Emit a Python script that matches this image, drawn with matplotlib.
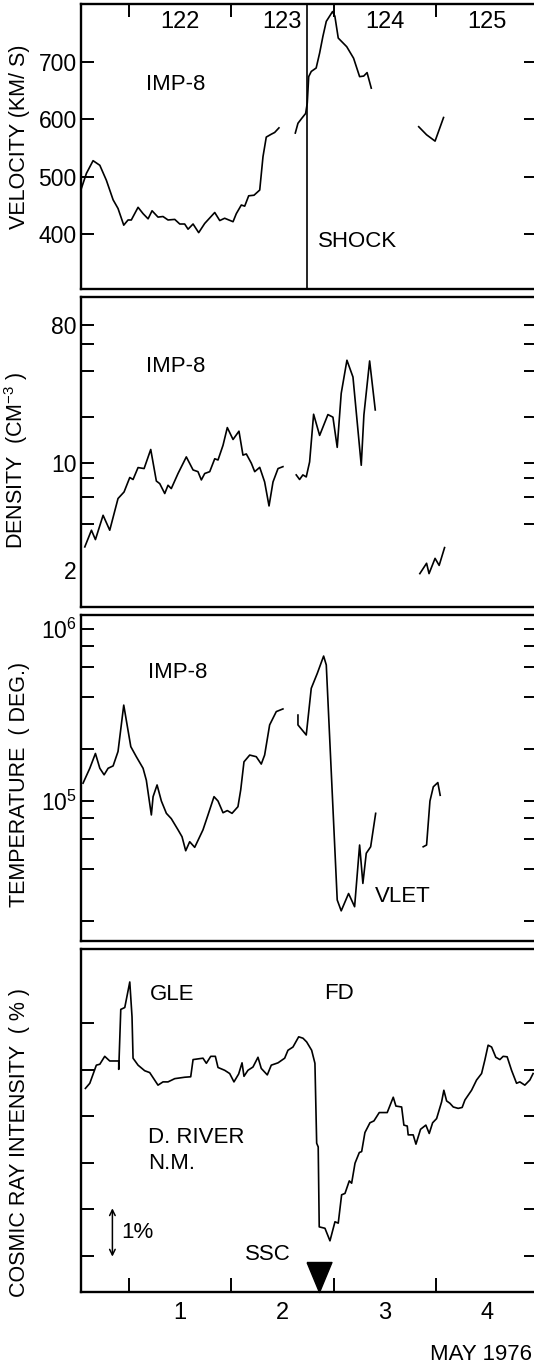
import matplotlib
matplotlib.use('Agg')
import matplotlib.pyplot as plt
import matplotlib.transforms as mtransforms
from matplotlib.ticker import NullLocator

# time axis: days of May 1976 (tick at 1.0 = start of May 1 = day 122)
day_bounds = [1, 2, 3, 4]
day_mid = [1.5, 2.5, 3.5, 4.5]
doy_labels = ['122', '123', '124', '125']
may_labels = ['1', '2', '3', '4']

# solar wind velocity (km/s), IMP-8
vel1_t = [0.534, 0.583, 0.648, 0.714, 0.778, 0.844, 0.892, 0.948, 0.990, 1.022,
          1.088, 1.137, 1.186, 1.225, 1.283, 1.332, 1.381, 1.447, 1.496, 1.544,
          1.577, 1.626, 1.681, 1.740, 1.838, 1.887, 1.935, 2.017, 2.049, 2.098,
          2.131, 2.170, 2.222, 2.278, 2.310, 2.342, 2.391, 2.424, 2.466]
vel1_v = [480, 506, 528, 520, 494, 460, 445, 416, 425, 425,
          447, 436, 427, 441, 430, 431, 425, 426, 418, 418,
          409, 418, 403, 419, 438, 424, 428, 422, 436, 451,
          449, 467, 468, 477, 535, 569, 574, 577, 585]
vel2_t = [2.626, 2.652, 2.691, 2.727, 2.743, 2.757, 2.782, 2.830, 2.864, 2.896,
          2.929, 2.990, 3.013, 3.046, 3.129, 3.196, 3.255, 3.295, 3.328, 3.369]
vel2_v = [576, 593, 602, 610, 628, 674, 683, 689, 715, 744,
          770, 787, 779, 741, 726, 706, 674, 675, 681, 654]
vel3_t = [3.833, 3.910, 3.993, 4.076]
vel3_v = [587, 573, 562, 603]
shock_time = 2.743

# density (cm^-3)
den1_t = [0.567, 0.632, 0.671, 0.746, 0.811, 0.892, 0.951, 1.007, 1.039, 1.088,
          1.147, 1.212, 1.267, 1.300, 1.349, 1.381, 1.413, 1.479, 1.560, 1.626,
          1.674, 1.707, 1.740, 1.789, 1.838, 1.870, 1.919, 1.961, 2.017, 2.075,
          2.114, 2.147, 2.196, 2.229, 2.278, 2.326, 2.369, 2.408, 2.457, 2.505]
den1_n = [2.84, 3.65, 3.17, 4.57, 3.65, 5.88, 6.49, 8.07, 7.83, 9.37,
          9.23, 12.3, 7.65, 7.36, 6.34, 7.18, 6.83, 8.57, 11.0, 9.04,
          8.81, 7.78, 8.57, 8.81, 10.7, 10.5, 13.1, 17.1, 14.3, 16.2,
          11.3, 11.5, 10.0, 8.81, 9.4, 7.55, 5.26, 7.55, 9.23, 9.5]
den2_t = [2.635, 2.668, 2.700, 2.733, 2.766, 2.805, 2.864, 2.945, 2.994, 3.036,
          3.075, 3.131, 3.190, 3.271, 3.297, 3.353, 3.408]
den2_n = [8.39, 7.83, 8.39, 8.14, 10.2, 20.9, 15.2, 20.8, 20.0, 12.7,
          28.6, 47.1, 36.6, 9.7, 20.7, 46.6, 22.3]
den3_t = [3.844, 3.910, 3.934, 3.993, 4.033, 4.086]
den3_n = [1.90, 2.22, 1.90, 2.39, 2.15, 2.81]
den_ticks = [2, 4, 6, 8, 10, 20, 40, 60, 80]
den_ticklabels = ['2', '', '', '', '10', '', '', '', '80']

# temperature (K)
tmp1_t = [0.550, 0.616, 0.671, 0.714, 0.756, 0.795, 0.844, 0.892, 0.948, 1.017,
          1.071, 1.137, 1.169, 1.218, 1.235, 1.274, 1.316, 1.365, 1.413, 1.479,
          1.518, 1.554, 1.593, 1.642, 1.723, 1.772, 1.831, 1.870, 1.919, 1.961,
          2.007, 2.065, 2.092, 2.124, 2.180, 2.244, 2.293, 2.326, 2.375, 2.440,
          2.505]
tmp1_T = [1.27e5, 1.55e5, 1.89e5, 1.55e5, 1.42e5, 1.55e5, 1.60e5, 1.94e5, 3.61e5, 2.07e5,
          1.81e5, 1.55e5, 1.32e5, 8.3e4, 1.06e5, 1.24e5, 1.0e5, 8.48e4, 7.9e4, 6.8e4,
          6.2e4, 5.14e4, 5.8e4, 5.38e4, 6.8e4, 8.3e4, 1.06e5, 1.0e5, 8.55e4, 8.8e4,
          8.48e4, 9.27e4, 1.16e5, 1.69e5, 1.85e5, 1.81e5, 1.64e5, 1.85e5, 2.77e5, 3.31e5,
          3.43e5]
tmp2_t = [2.652, 2.652, 2.733, 2.782, 2.841, 2.903, 2.929, 3.036, 3.075, 3.147,
          3.206, 3.255, 3.287, 3.320, 3.363, 3.412]
tmp2_T = [3.16e5, 2.77e5, 2.42e5, 4.52e5, 5.52e5, 6.96e5, 6.18e5, 2.66e4, 2.3e4, 2.9e4,
          2.43e4, 5.55e4, 3.32e4, 4.97e4, 5.42e4, 8.48e4]
tmp3_t = [3.877, 3.910, 3.943, 3.976, 4.020, 4.043]
tmp3_T = [5.42e4, 5.55e4, 1.0e5, 1.21e5, 1.28e5, 1.08e5]
tmp_ticks = [2e4, 4e4, 6e4, 8e4, 1e5, 2e5, 4e5, 6e5, 8e5, 1e6]
tmp_ticklabels = ['', '', '', '', '$10^5$', '', '', '', '', '$10^6$']

# cosmic ray intensity (%), Deep River neutron monitor
cr_t = [0.573, 0.616, 0.680, 0.714, 0.762, 0.811, 0.899, 0.899, 0.919, 0.958,
        1.007, 1.029, 1.039, 1.088, 1.153, 1.202, 1.283, 1.332, 1.381, 1.447,
        1.544, 1.603, 1.626, 1.723, 1.756, 1.799, 1.844, 1.870, 1.935, 1.984,
        2.026, 2.072, 2.105, 2.124, 2.163, 2.212, 2.261, 2.293, 2.352, 2.391,
        2.457, 2.522, 2.554, 2.603, 2.659, 2.701, 2.737, 2.786, 2.818, 2.835,
        2.850, 2.860, 2.916, 2.965, 3.014, 3.046, 3.079, 3.112, 3.154, 3.177,
        3.210, 3.252, 3.275, 3.307, 3.356, 3.395, 3.447, 3.525, 3.584, 3.610,
        3.666, 3.688, 3.721, 3.730, 3.779, 3.806, 3.851, 3.903, 3.936, 3.969,
        4.008, 4.057, 4.079, 4.106, 4.138, 4.171, 4.219, 4.258, 4.285, 4.350,
        4.399, 4.448, 4.480, 4.512, 4.546, 4.587, 4.627, 4.659, 4.698, 4.741,
        4.790, 4.822, 4.871, 4.920, 4.952]
cr_v = [3.60, 3.71, 4.10, 4.12, 4.29, 4.19, 4.19, 4.01, 5.30, 5.34,
        5.89, 5.14, 4.25, 4.10, 3.98, 3.94, 3.67, 3.74, 3.74, 3.81,
        3.84, 3.85, 4.22, 4.25, 4.14, 4.29, 4.29, 4.05, 3.99, 3.92,
        3.74, 3.91, 4.15, 3.86, 3.99, 4.06, 4.27, 4.03, 3.89, 4.10,
        4.15, 4.25, 4.42, 4.49, 4.71, 4.68, 4.60, 4.42, 4.14, 2.42,
        2.34, 0.62, 0.59, 0.32, 0.73, 0.70, 1.31, 1.34, 1.61, 1.56,
        1.99, 2.22, 2.24, 2.65, 2.86, 2.90, 3.08, 3.08, 3.41, 3.22,
        3.20, 2.81, 2.79, 2.60, 2.60, 2.40, 2.72, 2.81, 2.63, 2.86,
        2.95, 3.31, 3.56, 3.33, 3.28, 3.20, 3.17, 3.19, 3.35, 3.56,
        3.78, 3.92, 4.21, 4.53, 4.49, 4.27, 4.22, 4.29, 4.28, 3.99,
        3.71, 3.74, 3.67, 3.78, 3.92]
cr_ticks = [0, 1, 2, 3, 4, 5]
ssc_time = 2.857

plt.rcParams['font.family'] = ['Liberation Sans', 'DejaVu Sans']
plt.rcParams['font.size'] = 16
plt.rcParams['mathtext.default'] = 'regular'

fig = plt.figure(figsize=(5.34, 13.68), dpi=100)
ax1 = fig.add_axes([0.1517, 0.7887, 0.852, 0.2083])
ax2 = fig.add_axes([0.1517, 0.5563, 0.852, 0.2266])
ax3 = fig.add_axes([0.1517, 0.3121, 0.852, 0.2383])
ax4 = fig.add_axes([0.1517, 0.0556, 0.852, 0.2507])

lw = 1.2
for ax in [ax1, ax2, ax3, ax4]:
    for s in ax.spines.values():
        s.set_linewidth(1.7)
    ax.set_xlim(0.53, 4.98)
    ax.tick_params(axis='y', which='major', direction='in', left=True, right=True,
                   length=9, width=1.4, pad=3, labelsize=16.5, labelright=False)

# velocity
ax1.plot(vel1_t, vel1_v, 'k-', lw=lw)
ax1.plot(vel2_t, vel2_v, 'k-', lw=lw)
ax1.plot(vel3_t, vel3_v, 'k-', lw=lw)
ax1.axvline(shock_time, color='k', lw=1.2)
ax1.set_ylim(305, 800)
ax1.set_yticks([400, 500, 600, 700])
ax1.set_xticks(day_bounds)
ax1.set_xticks(day_mid, minor=True)
ax1.set_xticklabels(doy_labels, minor=True)
ax1.tick_params(axis='x', which='major', direction='in', bottom=False, top=True,
                length=9, width=1.4, labelbottom=False, labeltop=False)
ax1.tick_params(axis='x', which='minor', bottom=False, top=False, labelsize=17,
                labelbottom=False, labeltop=True, pad=-23)
ax1.text(1.17, 660, 'IMP-8', va='center')
ax1.text(2.85, 387, 'SHOCK', va='center')
ax1.set_ylabel('VELOCITY (KM/ S)', fontsize=15.5)
ax1.yaxis.set_label_coords(-0.112, 0.533)

# density
ax2.plot(den1_t, den1_n, 'k-', lw=lw)
ax2.plot(den2_t, den2_n, 'k-', lw=lw)
ax2.plot(den3_t, den3_n, 'k-', lw=lw)
ax2.set_yscale('log')
ax2.set_ylim(1.15, 122)
ax2.set_yticks(den_ticks)
ax2.set_yticklabels(den_ticklabels)
ax2.yaxis.set_minor_locator(NullLocator())
ax2.set_xticks([])
t0 = ax2.yaxis.get_major_ticks()[0]
t0.tick1line.set_visible(False)
t0.tick2line.set_visible(False)
ax2.text(1.17, 42.6, 'IMP-8', va='center')
ax2.set_ylabel('DENSITY  (CM$^{-3}$ )', fontsize=15.5)
ax2.yaxis.set_label_coords(-0.112, 0.474)

# temperature
ax3.plot(tmp1_t, tmp1_T, 'k-', lw=lw)
ax3.plot(tmp2_t, tmp2_T, 'k-', lw=lw)
ax3.plot(tmp3_t, tmp3_T, 'k-', lw=lw)
ax3.set_yscale('log')
ax3.set_ylim(1.535e4, 1.205e6)
ax3.set_yticks(tmp_ticks)
ax3.set_yticklabels(tmp_ticklabels)
ax3.yaxis.set_minor_locator(NullLocator())
ax3.set_xticks([])
ax3.text(1.186, 5.58e5, 'IMP-8', va='center')
ax3.text(3.40, 2.79e4, 'VLET', va='center')
ax3.set_ylabel('TEMPERATURE  ( DEG.)', fontsize=15.5)
ax3.yaxis.set_label_coords(-0.112, 0.479)

# cosmic rays
ax4.plot(cr_t, cr_v, 'k-', lw=lw)
ax4.set_ylim(-0.78, 6.60)
ax4.set_yticks(cr_ticks)
ax4.set_yticklabels([])
ax4.set_xticks(day_bounds)
ax4.set_xticks(day_mid, minor=True)
ax4.set_xticklabels(may_labels, minor=True)
ax4.tick_params(axis='x', which='major', direction='in', bottom=True, top=False,
                length=10, width=1.4, labelbottom=False)
ax4.tick_params(axis='x', which='minor', bottom=False, top=False, pad=5, labelsize=17)
ax4.text(1.20, 5.63, 'GLE', va='center')
ax4.text(2.905, 5.64, 'FD', va='center')
ax4.text(1.186, 2.54, 'D. RIVER', va='center')
ax4.text(1.186, 1.99, 'N.M.', va='center')
ax4.text(2.13, 0.02, 'SSC', va='center')
ax4.text(0.92, 0.5, '1%', va='center')
ax4.annotate('', xy=(0.837, -0.02), xytext=(0.837, 1.02),
             arrowprops=dict(arrowstyle='<->', lw=1.1, mutation_scale=10,
                             shrinkA=0, shrinkB=0))
tri = [(-0.83, 1), (0.83, 1), (0, -1), (-0.83, 1)]
trans = mtransforms.blended_transform_factory(ax4.transData, ax4.transAxes)
ax4.plot([ssc_time], [0.044], marker=tri, ms=21.6, color='k', transform=trans,
         clip_on=False)
ax4.set_ylabel('COSMIC RAY INTENSITY  ( % )', fontsize=15.5)
ax4.yaxis.set_label_coords(-0.112, 0.437)

fig.text(532 / 534, 1 - 1354 / 1368, 'MAY 1976', va='center', ha='right')

fig.savefig('out.png', dpi=100)
